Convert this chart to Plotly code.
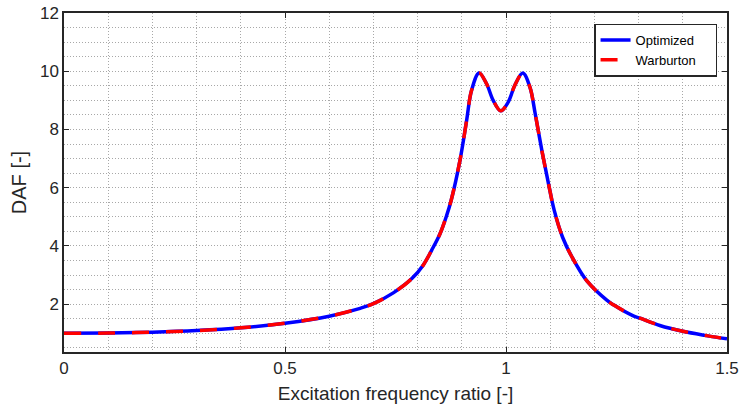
import plotly.graph_objects as go

freq_ratio = [0.0, 0.1, 0.2, 0.3, 0.4, 0.5, 0.6, 0.67, 0.7, 0.745, 0.787, 0.813,
              0.832, 0.851, 0.866, 0.876, 0.896, 0.911, 0.922, 0.939, 0.956, 0.971,
              0.988, 1.005, 1.020, 1.038, 1.054, 1.066, 1.081, 1.096, 1.109, 1.128,
              1.149, 1.183, 1.228, 1.243, 1.288, 1.303, 1.348, 1.40, 1.45, 1.5]
daf_optimized = [1.0, 1.01, 1.04, 1.095, 1.19, 1.35, 1.59, 1.86, 2.02, 2.39, 2.88, 3.35,
                 3.86, 4.43, 5.06, 5.57, 6.95, 8.32, 9.34, 9.94, 9.57, 9.0,
                 8.64, 8.94, 9.52, 9.94, 9.46, 8.55, 7.29, 6.15, 5.23, 4.3,
                 3.63, 2.8, 2.14, 1.98, 1.6, 1.52, 1.27, 1.07, 0.93, 0.81]
daf_warburton = list(daf_optimized)

x_ticks = [0, 0.5, 1, 1.5]
x_tick_labels = ["0", "0.5", "1", "1.5"]
y_ticks = [2, 4, 6, 8, 10, 12]
y_tick_labels = ["2", "4", "6", "8", "10", "12"]

FONT = "Liberation Sans, Arial, Helvetica, sans-serif"
AXC = "#262626"
GRIDC = "#a8a8a8"
GDASH = "1px,2px"
PAD = "\u00a0\u00a0\u00a0\u00a0"

fig = go.Figure()
fig.add_trace(go.Scatter(x=freq_ratio, y=daf_optimized, mode="lines", name="Optimized" + PAD,
                         line=dict(color="#0000ff", width=3.5, shape="spline", smoothing=1.0)))
fig.add_trace(go.Scatter(x=freq_ratio, y=daf_warburton, mode="lines", name="Warburton" + PAD,
                         line=dict(color="#ff0000", width=3.5, dash="17px,17px",
                                   shape="spline", smoothing=1.0)))

axis_common = dict(
    showline=True, linecolor=AXC, linewidth=1.5, mirror="ticks",
    ticks="inside", ticklen=5, tickwidth=1.2, tickcolor=AXC,
    showgrid=True, gridcolor=GRIDC, griddash=GDASH, gridwidth=1,
    zeroline=False, automargin=False, ticklabeloverflow="allow",
    tickfont=dict(family=FONT, size=17, color="#262626"),
)

fig.update_xaxes(
    range=[0, 1.5], tickvals=x_ticks, ticktext=x_tick_labels,
    title=dict(text="Excitation frequency ratio [-]", font=dict(family=FONT, size=19, color="#262626"),
               standoff=10),
    minor=dict(dtick=0.1, tick0=0, showgrid=True, gridcolor=GRIDC, griddash=GDASH, gridwidth=1, ticks=""),
    **axis_common,
)
fig.update_yaxes(
    range=[0.36, 12], tickvals=y_ticks, ticktext=y_tick_labels,
    title=dict(text="DAF [-]", font=dict(family=FONT, size=20, color="#262626"), standoff=8),
    minor=dict(dtick=0.5, tick0=0, showgrid=True, gridcolor=GRIDC, griddash=GDASH, gridwidth=1, ticks=""),
    **axis_common,
)

fig.update_layout(
    width=739, height=414,
    margin=dict(l=64, r=12, t=13, b=62),
    paper_bgcolor="white", plot_bgcolor="white",
    font=dict(family=FONT, color="#262626"),
    legend=dict(
        x=0.985, y=0.969, xanchor="right", yanchor="top",
        bgcolor="white", bordercolor="#262626", borderwidth=1.5,
        font=dict(family=FONT, size=13, color="black"),
        tracegroupgap=0, itemwidth=30,
    ),
    showlegend=True,
)

# remove the browser's default 8px body margin so the figure fills the window exactly
fig.write_html("out.html", config={"displayModeBar": False},
               post_script="document.body.style.margin='0';document.body.style.overflow='hidden';")
